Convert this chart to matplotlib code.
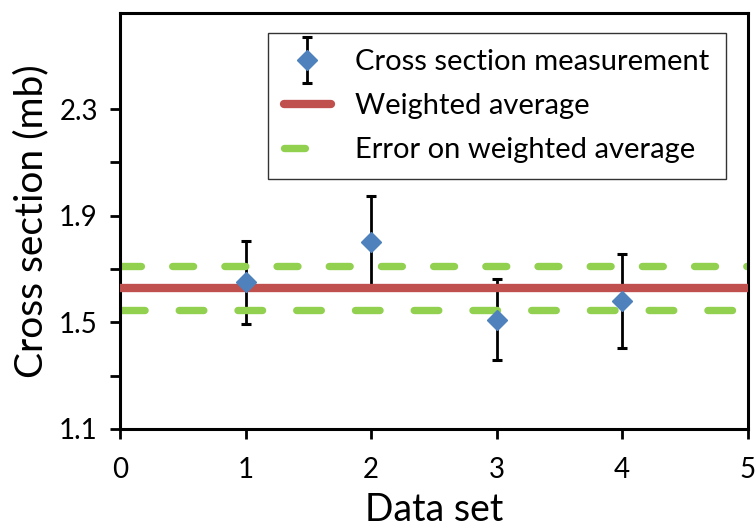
import numpy as np
from matplotlib import pyplot as plt
from matplotlib.container import ErrorbarContainer
from matplotlib.legend_handler import HandlerErrorbar

plt.rcParams['font.family'] = ['Lato', 'DejaVu Sans']

# values
data_set = [1, 2, 3, 4]
cross_section = [1.65, 1.80, 1.51, 1.58]
cross_error = [0.155, 0.175, 0.153, 0.175]
weighted_avg = 1.629
weighted_err = 0.081
x_span = [0, 5]

fig = plt.figure(figsize=(7.56, 5.27), dpi=100)
ax = fig.add_axes([0.1587, 0.186, 0.8303, 0.789])

# error bars sit behind the average lines, diamonds on top
ax.errorbar(data_set, cross_section, yerr=cross_error, fmt='none',
            ecolor='black', elinewidth=2, capsize=3.8, capthick=2.2, zorder=1)
ax.plot(x_span, [weighted_avg + weighted_err] * 2, color='#92D050', lw=5.3,
        ls=(0, (2.84, 4.25)), dash_capstyle='round', zorder=2)
ax.plot(x_span, [weighted_avg - weighted_err] * 2, color='#92D050', lw=5.3,
        ls=(0, (3.34, 4.64)), dash_capstyle='round', zorder=2)
ax.plot(x_span, [weighted_avg] * 2, color='#C0504D', lw=6.0,
        solid_capstyle='butt', zorder=3)
ax.plot(data_set, cross_section, 'D', color='#4F81BD', ms=10.5, zorder=5)

# legend proxies
h_meas = ax.errorbar([np.nan], [np.nan], yerr=[0.1], fmt='D', color='#4F81BD', ms=10.5,
                     ecolor='black', elinewidth=2, capsize=3.8, capthick=2.2)
h_avg, = ax.plot([], [], color='#C0504D', lw=6.0, solid_capstyle='round')
h_err, = ax.plot([], [], color='#92D050', lw=5.3, ls=(0, (2.84, 4.25)),
                 dash_capstyle='round')

ax.set_xlim(0, 5)
ax.set_ylim(1.1, 2.66)
ax.set_xticks(range(0, 6))
ax.set_yticks([1.1, 1.5, 1.9, 2.3])
ax.set_yticks([1.3, 1.7, 2.1], minor=True)
ax.tick_params(axis='both', which='major', labelsize=20, width=2, length=7, direction='out')
ax.tick_params(axis='y', which='minor', width=2, length=7, direction='out')
ax.tick_params(axis='x', pad=13)
ax.tick_params(axis='y', pad=9)
for s in ax.spines.values():
    s.set_linewidth(2.2)

ax.set_xlabel('Data set', fontsize=27, labelpad=7)
ax.set_ylabel('Cross section (mb)', fontsize=28, labelpad=7)

leg = ax.legend([h_meas, h_avg, h_err],
                ['Cross section measurement', 'Weighted average', 'Error on weighted average'],
                loc='upper right', bbox_to_anchor=(0.965, 0.952), fontsize=21,
                frameon=True, fancybox=False, edgecolor='black', handlelength=1.6,
                handletextpad=0.85, borderpad=0.55, labelspacing=0.62, borderaxespad=0,
                handler_map={ErrorbarContainer: HandlerErrorbar(yerr_size=0.8)})
leg.get_frame().set_linewidth(1)

fig.savefig('out.png', dpi=100)
